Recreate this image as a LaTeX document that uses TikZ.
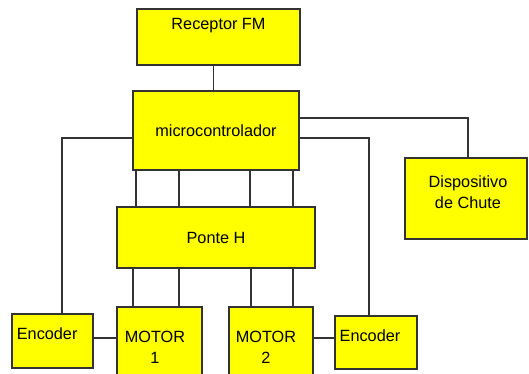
\documentclass[tikz,border=0pt]{standalone}
\usepackage{fontspec}
\setmainfont{Liberation Sans}
\usetikzlibrary{calc}
\definecolor{boxyellow}{RGB}{255,255,0}
\definecolor{linegray}{RGB}{51,51,51}
\tikzset{
    % Blocks
    blk/.style={rectangle, draw=linegray, fill=boxyellow, line width=1.1pt,
                inner sep=0pt, align=center, font=\fontsize{12.2}{15.75}\selectfont},
    txt/.style={font=\fontsize{12.2}{15.75}\selectfont, align=center, inner sep=0pt},
    % Connections
    wire/.style={draw=linegray, line width=1.2pt},
}

\begin{document}
\begin{tikzpicture}[x=0.75pt, y=-0.75pt]
\useasboundingbox (0,0) rectangle (529,374);
\clip (0,0) rectangle (529,374);

% Receptor
\node[blk, minimum width=122.25pt, minimum height=42pt,
      label={[txt, yshift=8.25pt]center:Receptor FM}] (rx) at (218.5,37) {};

% Microcontroller
\node[blk, minimum width=124.5pt, minimum height=59.25pt] (mc) at (216,130.5) {microcontrolador};

% Chute device
\node[blk, minimum width=91.5pt, minimum height=60.75pt,
      label={[txt, xshift=1.5pt, yshift=4.5pt]center:Dispositivo\\de Chute}] (dc) at (466,198.5) {};

% H bridge
\node[blk, minimum width=148.5pt, minimum height=45.75pt] (ph) at (216,237.5) {Ponte H};

% Motors
\node[blk, minimum width=63.75pt, minimum height=60pt,
      label={[txt, xshift=-3.4pt]center:MOTOR\\1}] (m1) at (159.5,347) {};
\node[blk, minimum width=63pt, minimum height=60pt,
      label={[txt, xshift=-3.75pt]center:MOTOR\\2}] (m2) at (271,347) {};

% Encoders
\node[blk, minimum width=60.75pt, minimum height=40.5pt,
      label={[txt, xshift=-4pt, yshift=5.25pt]center:Encoder}] (e1) at (52.5,341) {};
\node[blk, minimum width=61.5pt, minimum height=39.75pt,
      label={[txt, xshift=-4.5pt, yshift=4.9pt]center:Encoder}] (e2) at (376,342.5) {};

% Receptor -> micro
\draw[wire] ($(rx.south)+(-5,0)$) coordinate (a) -- (a |- mc.north);

% Micro -> chute, encoders
\draw[wire] ($(mc.east)+(0,-12.5)$) -| ($(dc.north)+(2,0)$);
\draw[wire] ($(mc.east)+(0,7.5)$) -| ($(e2.north)+(-7,0)$);
\draw[wire] ($(mc.west)+(0,7.5)$) -| ($(e1.north)+(9.5,0)$);

% Micro -> Ponte H
\foreach \d in {4,47,118,161}
    \draw[wire] ($(mc.south west)+(\d,0)$) coordinate (t) -- (t |- ph.north);

% Ponte H -> motors
\foreach \d in {17,63}
    \draw[wire] ($(m1.north west)+(\d,0)$) coordinate (b) -- (b |- ph.south);
\foreach \d in {23,65}
    \draw[wire] ($(m2.north west)+(\d,0)$) coordinate (b) -- (b |- ph.south);

% Encoders -> motors
\draw[wire] ($(e1.east)+(0,-3)$) coordinate (c) -- (c -| m1.west);
\draw[wire] ($(e2.west)+(0,-4.5)$) coordinate (c) -- (c -| m2.east);

\end{tikzpicture}
\end{document}
